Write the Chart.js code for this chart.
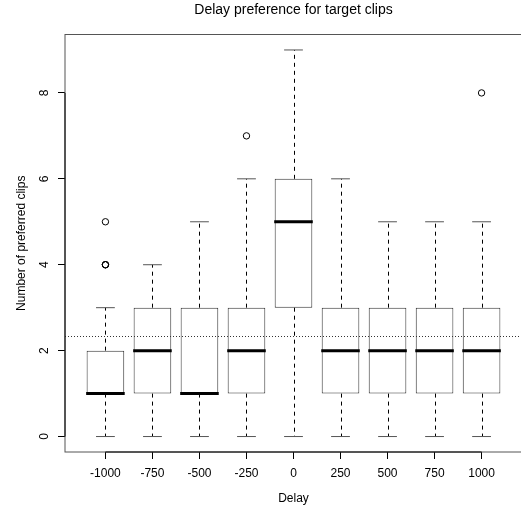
<!DOCTYPE html>
<html>
<head>
<meta charset="utf-8">
<script src="https://cdn.jsdelivr.net/npm/chart.js@4.4.1/dist/chart.umd.min.js"></script>
<style>
    html, body { margin: 0; background: #fff; overflow: hidden; }
    #chart_div { width: 521px; height: 510px; overflow: hidden; }
</style>
</head>
<body>
<div id="chart_div"><canvas id="delay_chart" width="522" height="510"></canvas></div>
<script>
// values
const delay_labels = ["-1000", "-750", "-500", "-250", "0", "250", "500", "750", "1000"];
const whisker_low = [0, 0, 0, 0, 0, 0, 0, 0, 0];
const quartile_low = [1, 1, 1, 1, 3, 1, 1, 1, 1];
const median_values = [1, 2, 1, 2, 5, 2, 2, 2, 2];
const quartile_high = [2, 3, 3, 3, 6, 3, 3, 3, 3];
const whisker_high = [3, 4, 5, 6, 9, 6, 5, 5, 5];
const outlier_values = [[4, 4, 4, 5], [], [], [7], [], [], [], [], [8]];
const mean_line = 2.33;
const y_ticks = [0, 2, 4, 6, 8];

const positions = delay_labels.map(function (label, i) { return i + 1; });

const box_data = positions.map(function (pos, i) {
    return {"x": pos, "y": [quartile_low[i], quartile_high[i]]};
});
let outlier_points = [];
outlier_values.forEach(function (list, i) {
    list.forEach(function (v) { outlier_points.push({"x": positions[i], "y": v}); });
});

const font_family = "'Liberation Sans', Arial, Helvetica, sans-serif";
Chart.defaults.font.family = font_family;
Chart.defaults.color = "#000";

// whiskers, staples, medians, frame and the dotted mean line
const boxplot_extras = {
    "id": "boxplot_extras",
    beforeDatasetsDraw: function (chart) {
        const ctx = chart.ctx;
        const x = chart.scales.x;
        const y = chart.scales.y;
        ctx.save();
        ctx.lineWidth = 1;
        positions.forEach(function (pos, i) {
            const px = Math.round(x.getPixelForValue(pos)) + 0.5;
            ctx.strokeStyle = "#000";
            ctx.setLineDash([4, 4]);
            ctx.beginPath();
            ctx.moveTo(px, y.getPixelForValue(quartile_high[i]));
            ctx.lineTo(px, y.getPixelForValue(whisker_high[i]));
            ctx.moveTo(px, y.getPixelForValue(quartile_low[i]));
            ctx.lineTo(px, y.getPixelForValue(whisker_low[i]));
            ctx.stroke();
            ctx.setLineDash([]);
            ctx.strokeStyle = "#555";
            ctx.beginPath();
            [whisker_high[i], whisker_low[i]].forEach(function (v) {
                const py = y.getPixelForValue(v);
                ctx.moveTo(x.getPixelForValue(pos - 0.2), py);
                ctx.lineTo(x.getPixelForValue(pos + 0.2), py);
            });
            ctx.stroke();
        });
        ctx.restore();
    },
    afterDatasetsDraw: function (chart) {
        const ctx = chart.ctx;
        const x = chart.scales.x;
        const y = chart.scales.y;
        const area = chart.chartArea;
        ctx.save();
        // medians
        ctx.strokeStyle = "#000";
        ctx.lineWidth = 3;
        ctx.beginPath();
        positions.forEach(function (pos, i) {
            const py = y.getPixelForValue(median_values[i]);
            ctx.moveTo(x.getPixelForValue(pos - 0.41), py);
            ctx.lineTo(x.getPixelForValue(pos + 0.41), py);
        });
        ctx.stroke();
        // mean line
        ctx.lineWidth = 1;
        ctx.strokeStyle = "#333";
        ctx.setLineDash([1, 2]);
        ctx.beginPath();
        const my = Math.round(y.getPixelForValue(mean_line)) + 0.5;
        ctx.moveTo(area.left, my);
        ctx.lineTo(area.right, my);
        ctx.stroke();
        ctx.setLineDash([]);
        // box round the plot, its right side sits past the window edge
        ctx.strokeStyle = "#555";
        ctx.strokeRect(area.left, area.top, area.right - area.left, area.bottom - area.top);
        // axis lines
        ctx.strokeStyle = "#000";
        ctx.beginPath();
        ctx.moveTo(area.left, y.getPixelForValue(y_ticks[0]));
        ctx.lineTo(area.left, y.getPixelForValue(y_ticks[y_ticks.length - 1]));
        ctx.moveTo(x.getPixelForValue(positions[0]), area.bottom);
        ctx.lineTo(x.getPixelForValue(positions[positions.length - 1]), area.bottom);
        ctx.stroke();
        ctx.restore();
    }
};

const delay_chart = document.getElementById("delay_chart").getContext("2d");

new Chart(delay_chart, {
    "type": "bar",
    "data": {
        "datasets": [{
            "label": "boxes",
            "data": box_data,
            "backgroundColor": "#fff",
            "borderColor": "#333",
            "borderWidth": 1,
            "borderSkipped": false,
            "barPercentage": 0.8,
            "categoryPercentage": 1
        }, {
            "type": "scatter",
            "label": "outliers",
            "data": outlier_points,
            "backgroundColor": "rgba(0,0,0,0)",
            "borderColor": "#000",
            "borderWidth": 1,
            "pointRadius": 3.2,
            "pointHoverRadius": 3.2
        }]
    },
    "options": {
        "responsive": false,
        "animation": false,
        "events": [],
        "layout": {"padding": 0, "autoPadding": false},
        "plugins": {
            "legend": {"display": false},
            "tooltip": {"enabled": false},
            "title": {
                "display": true,
                "text": "Delay preference for target clips",
                "fullSize": false,
                "color": "#000",
                "font": {"size": 14, "weight": "normal"},
                "padding": {"top": 1.5, "bottom": 16.2}
            }
        },
        "scales": {
            "x": {
                "type": "linear",
                "offset": false,
                "min": 0.14,
                "max": 9.86,
                "afterBuildTicks": function (scale) {
                    scale.ticks = positions.map(function (p) { return {"value": p}; });
                },
                "afterFit": function (scale) {
                    scale.height = 58;
                    scale.paddingLeft = 0;
                    scale.paddingRight = 0;
                },
                "ticks": {
                    "callback": function (value) { return delay_labels[Math.round(value) - 1]; },
                    "autoSkip": false,
                    "maxRotation": 0,
                    "padding": 7,
                    "font": {"size": 12}
                },
                "grid": {"offset": false, "drawOnChartArea": false, "drawTicks": true, "tickLength": 7, "color": "#000"},
                "border": {"display": false},
                "title": {
                    "display": true,
                    "text": "Delay",
                    "font": {"size": 12},
                    "padding": {"top": 0, "bottom": 3.8}
                }
            },
            "y": {
                "type": "linear",
                "min": -0.36,
                "max": 9.36,
                "afterBuildTicks": function (scale) {
                    scale.ticks = y_ticks.map(function (v) { return {"value": v}; });
                },
                "afterFit": function (scale) { scale.width = 65; },
                "ticks": {
                    "minRotation": 90,
                    "maxRotation": 90,
                    "crossAlign": "center",
                    "padding": 10,
                    "font": {"size": 12}
                },
                "grid": {"drawOnChartArea": false, "drawTicks": true, "tickLength": 7, "color": "#000"},
                "border": {"display": false},
                "title": {
                    "display": true,
                    "text": "Number of preferred clips",
                    "font": {"size": 12},
                    "padding": {"top": 14.3, "bottom": 0}
                }
            }
        }
    },
    "plugins": [boxplot_extras]
});
</script>
</body>
</html>
